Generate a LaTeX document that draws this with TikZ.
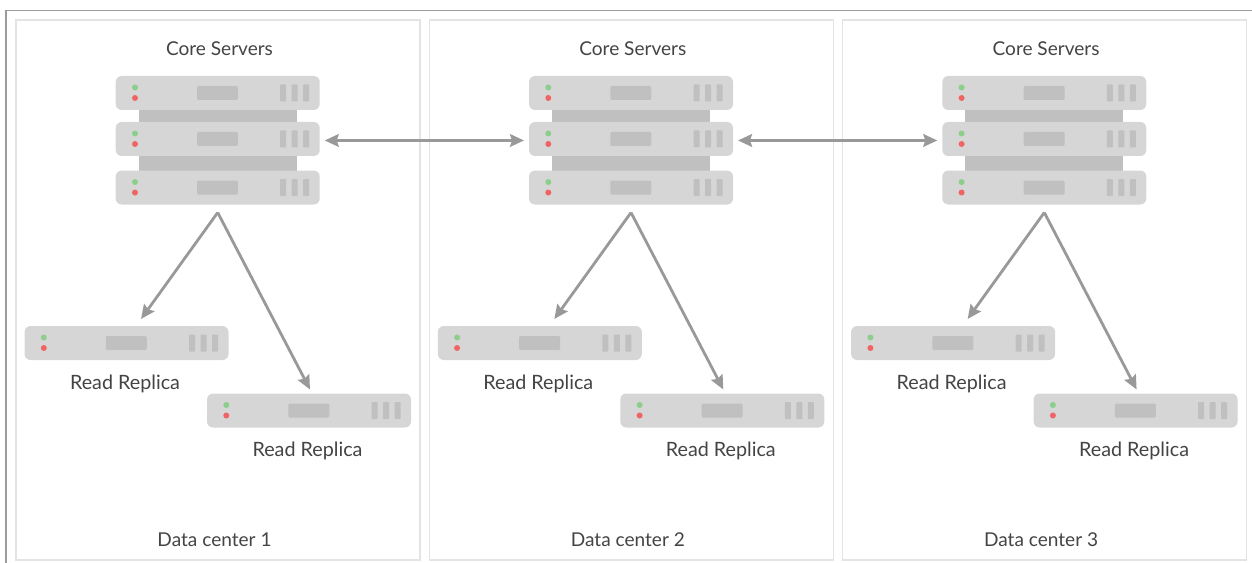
\documentclass[tikz,border=0pt]{standalone}
\usepackage{fontspec}
\setmainfont{Lato}
\usetikzlibrary{arrows.meta,positioning}
\definecolor{bodygrey}{HTML}{D6D6D6}
\definecolor{railgrey}{HTML}{C0C0C0}
\definecolor{flowgrey}{HTML}{999999}
\definecolor{framegrey}{HTML}{9C9C9C}
\definecolor{dcgrey}{HTML}{E4E4E4}
\definecolor{ledgreen}{HTML}{8CCF8C}
\definecolor{ledred}{HTML}{F06464}
\definecolor{textgrey}{HTML}{444444}
\begin{document}
\begin{tikzpicture}[x=0.75pt,y=-0.75pt,
    server/.style={rectangle,fill=bodygrey,rounded corners=4.5pt,inner sep=0pt,outer sep=0pt,minimum width=153pt,minimum height=25.5pt,
        path picture={
            \begin{scope}[shift={(path picture bounding box.center)}]
                \fill[ledgreen] (-82.7,-5.5) circle (3);
                \fill[ledred] (-82.7,5) circle (3);
                \fill[railgrey,rounded corners=1pt] (-20.7,-7) rectangle (20.3,7);
                \foreach \b in {62.5,74,85.5}{
                    \fill[railgrey,rounded corners=.5pt] (\b,-8.5) rectangle (\b+6,8.5);
                }
            \end{scope}
        }},
    rail/.style={rectangle,fill=railgrey,inner sep=0pt,outer sep=0pt,minimum width=118.5pt},
    dcbox/.style={rectangle,draw=dcgrey,line width=1.1pt,inner sep=0pt,minimum width=303pt,minimum height=405pt},
    caption/.style={text=textgrey,font=\fontsize{14.3pt}{17pt}\selectfont,inner sep=0pt},
    replabel/.style={text=textgrey,font=\fontsize{14.8pt}{17pt}\selectfont,inner sep=0pt},
    flow/.style={draw=flowgrey,line width=2.1pt,-{Stealth[length=10.5pt,width=9.5pt,inset=1.5pt]}},
    both/.style={draw=flowgrey,line width=2.1pt,{Stealth[length=10.5pt,width=9.5pt,inset=1.5pt]}-{Stealth[length=10.5pt,width=9.5pt,inset=1.5pt]},shorten <=3.75pt,shorten >=3.75pt}]
        \useasboundingbox (0,0) rectangle (1252,563);
        \draw[framegrey,line width=1.1pt] (6,563)--(6,10.5)--(1252,10.5);

        \foreach \i/\x in {1/0,2/413.3,3/826.6}{
            \node[dcbox] (dc\i) at (218+\x,290) {};
            \node[caption] (core\i) at (219.5+\x,49) {Core Servers};
            \node[server] (top\i) at (217.7+\x,93) {};
            \node[rail,minimum height=9pt] (upper\i) [below=0pt of top\i] {};
            \node[server] (mid\i) [below=0pt of upper\i] {};
            \node[rail,minimum height=10.9pt] (lower\i) [below=0pt of mid\i] {};
            \node[server] (bot\i) [below=0pt of lower\i] {};
            \coordinate[below=6pt of bot\i] (apex\i);
            \node[server] (repa\i) at (126.5+\x,343) {};
            \node[replabel] (repalabel\i) at (125+\x,384) {Read Replica};
            \node[server] (repb\i) at (309+\x,410.5) {};
            \node[replabel] (repblabel\i) at (307.5+\x,451) {Read Replica};
            \node[caption] (dclabel\i) at (214.5+\x,540) {Data center \i};

            \draw[flow] (apex\i)--([xshift=10.9pt,yshift=5.25pt]repa\i.north);
            \draw[flow] (apex\i)--([xshift=0.75pt,yshift=3pt]repb\i.north);
        }

        \draw[both] ([yshift=-1.1pt]mid1.east)--([yshift=-1.1pt]mid2.west);
        \draw[both] ([yshift=-1.1pt]mid2.east)--([yshift=-1.1pt]mid3.west);
    \end{tikzpicture}
\end{document}
